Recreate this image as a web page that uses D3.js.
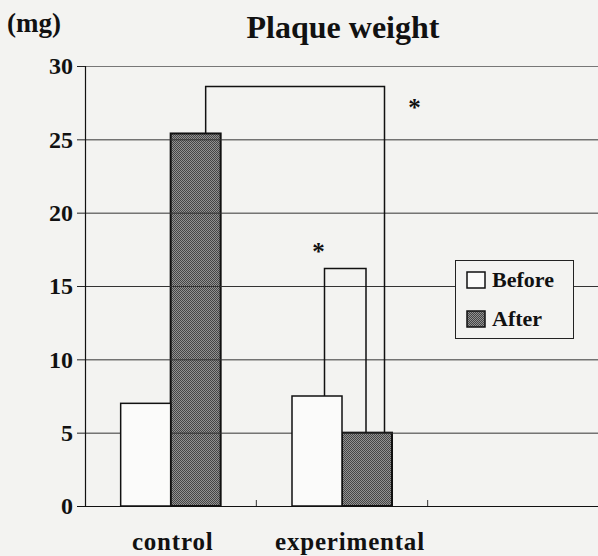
<!DOCTYPE html>
<html>
<head>
<meta charset="utf-8">
<script src="https://cdn.jsdelivr.net/npm/d3@7"></script>
<style>
  body { margin: 0; background: #f3f3f1; }
  svg { display: block; }
  text { font-family: "Liberation Serif", "Times New Roman", serif; font-weight: bold; fill: #111; }
</style>
</head>
<body>
<div id="chart"></div>
<script>
var groups = ["control", "experimental", ""];
var series = ["Before", "After"];
var before = [7.0, 7.5];
var after = [25.4, 5.0];
var yTicks = [0, 5, 10, 15, 20, 25, 30];
// significance brackets: from [group, series] to [group, series], top value
var brackets = [
  {from: ["control", "After"], to: ["experimental", "After"], top: 28.6, f1: 0.7, f2: 0.85},
  {from: ["experimental", "Before"], to: ["experimental", "After"], top: 16.2, f1: 0.65, f2: 0.48}
];

var width = 598, height = 556;
var margin = {top: 66, right: 0, bottom: 50, left: 85};

var svg = d3.select("#chart")
  .append("svg")
    .attr("width", width)
    .attr("height", height);

var defs = svg.append("defs");
var pat = defs.append("pattern")
    .attr("id", "halftone")
    .attr("width", 2).attr("height", 2)
    .attr("patternUnits", "userSpaceOnUse");
pat.append("rect").attr("width", 2).attr("height", 2).attr("fill", "#929292");
pat.append("rect").attr("width", 1).attr("height", 1).attr("fill", "#454545");
pat.append("rect").attr("x", 1).attr("y", 1).attr("width", 1).attr("height", 1).attr("fill", "#454545");

var x = d3.scaleBand()
    .domain(groups)
    .range([margin.left, width + 1]);

var xs = d3.scaleBand()
    .domain(series)
    .range([x.bandwidth() / 2 - 50, x.bandwidth() / 2 + 50]);

var y = d3.scaleLinear()
    .domain([0, 30])
    .range([height - margin.bottom, margin.top]);

var rows = [];
before.forEach(function (v, i) { rows.push({g: groups[i], s: "Before", v: v}); });
after.forEach(function (v, i) { rows.push({g: groups[i], s: "After", v: v}); });

// after bars first, so grid lines show over them
svg.append("g").selectAll("rect")
    .data(rows.filter(function (d) { return d.s == "After"; }))
    .enter()
    .append("rect")
      .attr("x", function (d) { return x(d.g) + xs(d.s); })
      .attr("y", function (d) { return y(d.v); })
      .attr("width", xs.bandwidth())
      .attr("height", function (d) { return y(0) - y(d.v); })
      .attr("fill", "url(#halftone)")
      .attr("stroke", "#111")
      .attr("stroke-width", 2);

// grid
svg.append("g").selectAll("line")
    .data(yTicks.filter(function (t) { return t > 0; }))
    .enter()
    .append("line")
      .attr("x1", margin.left)
      .attr("x2", width)
      .attr("y1", function (d) { return y(d) + 0.5; })
      .attr("y2", function (d) { return y(d) + 0.5; })
      .attr("stroke", function (d) { return d == 30 ? "#777" : "#333"; })
      .attr("stroke-width", 1);

svg.append("g").selectAll("rect")
    .data(rows.filter(function (d) { return d.s == "Before"; }))
    .enter()
    .append("rect")
      .attr("x", function (d) { return x(d.g) + xs(d.s); })
      .attr("y", function (d) { return y(d.v); })
      .attr("width", xs.bandwidth())
      .attr("height", function (d) { return y(0) - y(d.v); })
      .attr("fill", "#fbfbfa")
      .attr("stroke", "#111")
      .attr("stroke-width", 1.5);

// y axis
var yAxis = svg.append("g")
    .attr("transform", "translate(" + margin.left + ",0)")
    .call(d3.axisLeft(y).tickValues(yTicks).tickSize(8).tickPadding(4));
yAxis.select(".domain").attr("stroke", "#111").attr("stroke-width", 1.2);
yAxis.selectAll(".tick line").attr("stroke", "#222");
yAxis.selectAll(".tick text")
    .attr("font-size", 24)
    .attr("font-family", "Liberation Serif, serif")
    .attr("font-weight", "bold")
    .attr("fill", "#111");

// x axis
var xAxis = svg.append("g")
    .attr("transform", "translate(0," + y(0) + ")");
xAxis.append("line")
    .attr("x1", margin.left - 8).attr("x2", width)
    .attr("y1", 0.5).attr("y2", 0.5)
    .attr("stroke", "#111").attr("stroke-width", 1.2);
xAxis.selectAll(".edge")
    .data(groups.slice(1))
    .enter()
    .append("line")
      .attr("class", "edge")
      .attr("x1", function (d) { return x(d); })
      .attr("x2", function (d) { return x(d); })
      .attr("y1", -6).attr("y2", 0)
      .attr("stroke", "#333");
xAxis.selectAll("text")
    .data(groups.filter(function (d) { return d != ""; }))
    .enter()
    .append("text")
      .attr("x", function (d, i) { return x(d) + x.bandwidth() / 2 + (i == 1 ? 8 : 2); })
      .attr("y", 44)
      .attr("text-anchor", "middle")
      .attr("font-size", 25)
      .attr("letter-spacing", 0.8)
      .text(function (d) { return d; });

// brackets
function barVal(g, s) {
  var i = groups.indexOf(g);
  return s == "Before" ? before[i] : after[i];
}
brackets.forEach(function (b, i) {
  var x1 = x(b.from[0]) + xs(b.from[1]) + b.f1 * xs.bandwidth();
  var x2 = x(b.to[0]) + xs(b.to[1]) + b.f2 * xs.bandwidth();
  var path = d3.path();
  path.moveTo(x1, y(barVal(b.from[0], b.from[1])));
  path.lineTo(x1, y(b.top));
  path.lineTo(x2, y(b.top));
  path.lineTo(x2, y(barVal(b.to[0], b.to[1])));
  svg.append("path")
      .attr("d", path.toString())
      .attr("fill", "none")
      .attr("stroke", "#111")
      .attr("stroke-width", 1.5);
  svg.append("text")
      .attr("x", i == 0 ? x2 + 30 : x1 - 6)
      .attr("y", i == 0 ? y(b.top) + 29 : y(b.top) - 8)
      .attr("text-anchor", "middle")
      .attr("font-size", 25)
      .text("*");
});

// legend
var legend = svg.append("g").attr("transform", "translate(455,260)");
legend.append("rect")
    .attr("x", 0.5).attr("y", 0.5)
    .attr("width", 118).attr("height", 78)
    .attr("fill", "#f3f3f1")
    .attr("stroke", "#222");
series.forEach(function (s, i) {
  legend.append("rect")
      .attr("x", 12).attr("y", 12 + i * 39)
      .attr("width", 18).attr("height", 16)
      .attr("fill", s == "Before" ? "#fbfbfa" : "url(#halftone)")
      .attr("stroke", "#111")
      .attr("stroke-width", 1.5);
  legend.append("text")
      .attr("x", 37).attr("y", 27 + i * 39)
      .attr("font-size", 22)
      .text(s);
});

svg.append("text")
    .attr("x", 7).attr("y", 32)
    .attr("font-size", 27)
    .text("(mg)");

svg.append("text")
    .attr("x", 343).attr("y", 38)
    .attr("text-anchor", "middle")
    .attr("font-size", 32)
    .text("Plaque weight");
</script>
</body>
</html>
